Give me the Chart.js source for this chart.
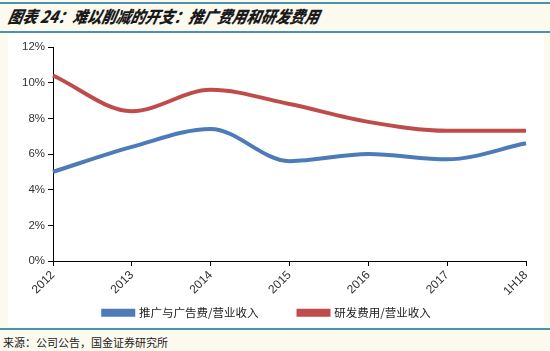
<!DOCTYPE html>
<html><head><meta charset="utf-8">
<script src="https://cdn.jsdelivr.net/npm/chart.js@4/dist/chart.umd.min.js"></script>
<style>
html,body{margin:0;padding:0;width:550px;height:351px;background:#fcf9ee;overflow:hidden;font-family:"Liberation Sans",Arial,sans-serif;}
#title{position:absolute;left:0;top:2px;width:550px;height:31px;border-top:2px solid #4b93ad;border-bottom:2px solid #4b93ad;box-sizing:border-box;}
#title span{position:absolute;left:6px;top:3px;font-family:"Noto Sans CJK SC",sans-serif;font-weight:900;font-style:italic;font-size:14.5px;line-height:22px;color:#1a1a1a;transform:skewX(-12deg) scaleY(1.15);transform-origin:left bottom;white-space:nowrap;}
#wrap{position:absolute;left:8px;top:34px;width:536px;height:293px;background:#fff;}
#foot{position:absolute;left:0;top:328px;width:550px;border-top:2px solid #4b93ad;}
#src{position:absolute;left:3px;top:334px;font-family:"Noto Sans CJK SC",sans-serif;font-size:11px;color:#222;}
</style></head>
<body>
<div id="title"><span>图表 24：难以削减的开支：推广费用和研发费用</span></div>
<div id="wrap"><canvas id="c" width="536" height="293"></canvas></div>
<div id="foot"></div>
<div id="src">来源：公司公告，国金证券研究所</div>
<script>
const categories = ['2012','2013','2014','2015','2016','2017','1H18'];
const promoRatio = [5.0, 6.4, 7.4, 5.6, 6.0, 5.7, 6.6];
const rdRatio = [10.4, 8.4, 9.6, 8.8, 7.8, 7.3, 7.3];
const yTicks = [0, 2, 4, 6, 8, 10, 12];
const seriesNames = ['推广与广告费/营业收入', '研发费用/营业收入'];

const LEGEND_GAP = 40, LEGEND_H = 28, LEGEND_SHIFT = 32;
const legendSpacing = {
  id: 'legendSpacing',
  beforeUpdate(chart) {
    const lg = chart.legend;
    if (lg && !lg._patched) {
      lg._patched = true;
      const of = lg.fit.bind(lg);
      lg.fit = function () { of(); this.height = LEGEND_H; };
      lg.draw = function () {
        if (!this.options.display) return;
        const ctx = this.ctx; ctx.save(); ctx.translate(0, -LEGEND_SHIFT); this._draw(); ctx.restore();
      };
    }
  }
};

new Chart(document.getElementById('c'), {
  type: 'line',
  data: {
    labels: categories,
    datasets: [
      {label: seriesNames[0], data: promoRatio, borderColor: '#4c7bb8', backgroundColor: '#4c7bb8', borderWidth: 4, pointRadius: 0, cubicInterpolationMode: 'monotone'},
      {label: seriesNames[1], data: rdRatio, borderColor: '#bf4c4a', backgroundColor: '#bf4c4a', borderWidth: 4, pointRadius: 0, cubicInterpolationMode: 'monotone'}
    ]
  },
  plugins: [legendSpacing],
  options: {
    responsive: false,
    animation: false,
    layout: {padding: {left: 0, right: 18, top: 13, bottom: 0}},
    plugins: {
      legend: {
        position: 'bottom',
        labels: {boxWidth: 30, boxHeight: 4, padding: LEGEND_GAP, color: '#222', font: {family: '"Noto Sans CJK SC", sans-serif', size: 11.5}}
      },
      tooltip: {enabled: false}
    },
    scales: {
      x: {
        offset: false,
        afterFit: (s) => { s.height = 38; },
        grid: {display: true, drawOnChartArea: false, drawTicks: true, tickLength: 5, color: '#000'},
        border: {display: true, color: '#000', width: 1},
        ticks: {minRotation: 45, maxRotation: 45, color: '#333', font: {family: '"Liberation Sans", Arial, sans-serif', size: 12}, padding: 2}
      },
      y: {
        min: 0, max: 12,
        afterBuildTicks: (s) => { s.ticks = yTicks.map(v => ({value: v})); },
        afterFit: (s) => { s.width = 45; },
        grid: {display: true, drawOnChartArea: false, drawTicks: true, tickLength: 5, color: '#000'},
        border: {display: true, color: '#000', width: 1},
        ticks: {color: '#333', font: {family: '"Liberation Sans", Arial, sans-serif', size: 11.5}, padding: 3, callback: v => v + '%'}
      }
    }
  }
});
</script>
</body></html>
